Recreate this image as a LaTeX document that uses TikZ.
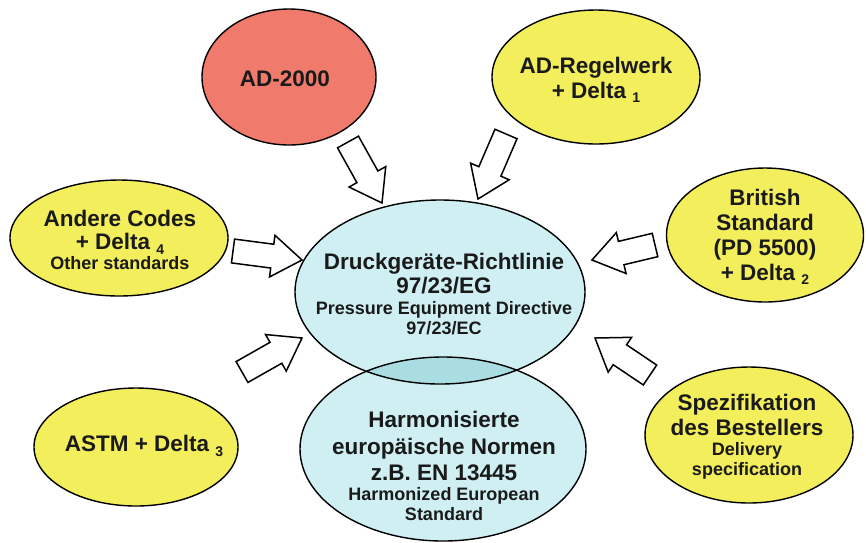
\documentclass[tikz,border=0pt]{standalone}
\usepackage{fontspec}
\setmainfont{Liberation Sans}
\usetikzlibrary{shapes.geometric,calc}
\definecolor{adred}{HTML}{F07A6C}
\definecolor{ylw}{HTML}{F2EE5C}
\definecolor{lblue}{HTML}{CFEFF3}
\definecolor{lblueov}{HTML}{AADDE1}
\definecolor{txt}{HTML}{1A1A1A}
\newcommand\bigtxt[1][25]{\fontsize{22.5}{#1}\selectfont}
\newcommand\smtxt[1][20]{\fontsize{18}{#1}\selectfont}
\newcommand\dsub[1]{\raisebox{-4.5pt}{\fontsize{14}{14}\selectfont #1}}
\newcommand\lines[1]{\parbox{330pt}{\centering #1\par}}
\newcommand\blockarrow[2]{%
  \coordinate (ba-n) at ($(#2)!30pt!(#1)$);
  \draw[blockarr] ($(#1)!12pt!90:(#2)$) -- ($(ba-n)!12pt!90:(#2)$) -- ($(ba-n)!21pt!90:(#2)$) -- (#2)
     -- ($(ba-n)!21pt!-90:(#2)$) -- ($(ba-n)!12pt!-90:(#2)$) -- ($(#1)!12pt!-90:(#2)$) -- cycle;
}
\tikzset{
  bubble/.style={ellipse, draw=black, line width=1.4pt, inner sep=0pt, outer sep=0pt},
  btext/.style={font=\bfseries, text=txt, inner sep=0pt},
  blockarr/.style={draw=black, line width=1.5pt, fill=white, line join=miter},
}
\begin{document}
\begin{tikzpicture}[x=1pt,y=-1pt]
\useasboundingbox (0,0) rectangle (866,542);
\fill[white] (0,0) rectangle (866,542);
% outer bubbles
\node[bubble, fill=adred, minimum width=174pt, minimum height=136pt] (ad) at (289,77) {};
\node[bubble, fill=ylw, minimum width=208pt, minimum height=134pt] (adr) at (596,77) {};
\node[bubble, fill=ylw, minimum width=218pt, minimum height=116pt] (and) at (119,238) {};
\node[bubble, fill=ylw, minimum width=197pt, minimum height=134pt] (bs) at (765,235) {};
\node[bubble, fill=ylw, minimum width=204pt, minimum height=118pt] (astm) at (136,447) {};
\node[bubble, fill=ylw, minimum width=208pt, minimum height=136pt] (spec) at (749,435) {};
% central bubbles
\node[ellipse, fill=lblue, inner sep=0pt, outer sep=0pt, minimum width=286pt, minimum height=184pt] (hen) at (443,449) {};
\node[ellipse, fill=lblue, inner sep=0pt, outer sep=0pt, minimum width=290pt, minimum height=184pt] (ped) at (440,292) {};
\begin{scope}
  \clip (ped.center) ellipse [x radius=145pt, y radius=92pt];
  \fill[lblueov] (hen.center) ellipse [x radius=143pt, y radius=92pt];
\end{scope}
\draw[line width=1.4pt] (hen.center) ellipse [x radius=143pt, y radius=92pt];
\draw[line width=1.4pt] (ped.center) ellipse [x radius=145pt, y radius=92pt];
% texts
\node[btext] (ad-t) at (285,79) {\lines{\bigtxt AD-2000}};
\node[btext] (adr-t) at (596,80) {\lines{\bigtxt AD-Regelwerk\par + Delta \dsub{1}}};
\node[btext] (and-t) at (120,240) {\lines{\bigtxt[23] Andere Codes\par + Delta \dsub{4}\par \smtxt Other standards}};
\node[btext] (bs-t) at (765,237) {\lines{\bigtxt British\par Standard\par (PD 5500)\par + Delta \dsub{2}}};
\node[btext] (astm-t) at (144,446) {\lines{\bigtxt ASTM + Delta \dsub{3}}};
\node[btext] (spec-t) at (747,437) {\lines{\bigtxt Spezifikation\par des Bestellers\par \smtxt Delivery\par specification}};
\node[btext] (ped-t) at (444,294) {\lines{\bigtxt[24] Druckgeräte-Richtlinie\par 97/23/EG\par \smtxt[21] Pressure Equipment Directive\par \smtxt 97/23/EC}};
\node[btext] (hen-t) at (444,466) {\lines{\bigtxt[26.5] Harmonisierte\par europäische Normen\par z.B. EN 13445\par \smtxt Harmonized European\par Standard}};
% arrows
\coordinate (a1t) at (348,142); \coordinate (a1h) at (382,203);
\coordinate (a2t) at (506,134); \coordinate (a2h) at (478,199);
\coordinate (a3t) at (233,251); \coordinate (a3h) at (302,260);
\coordinate (a4t) at (242,372); \coordinate (a4h) at (302,338);
\coordinate (a5t) at (655,245); \coordinate (a5h) at (592,260);
\coordinate (a6t) at (650,375); \coordinate (a6h) at (595,338);
\blockarrow{a1t}{a1h}
\blockarrow{a2t}{a2h}
\blockarrow{a3t}{a3h}
\blockarrow{a4t}{a4h}
\blockarrow{a5t}{a5h}
\blockarrow{a6t}{a6h}
\end{tikzpicture}
\end{document}
